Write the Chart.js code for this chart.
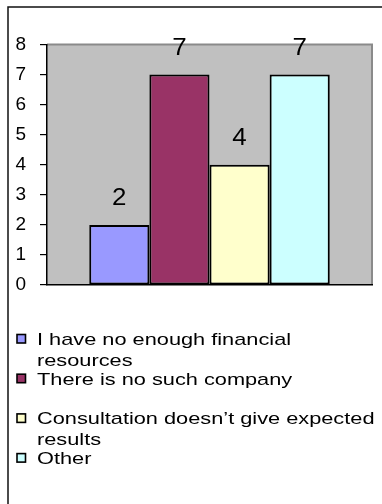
<!DOCTYPE html>
<html>
<head>
<meta charset="utf-8">
<script src="https://cdn.jsdelivr.net/npm/chart.js@4/dist/chart.umd.min.js"></script>
<style>
  html, body { margin: 0; padding: 0; background: #ffffff; }
  #wrap { position: relative; width: 382px; height: 504px; }
</style>
</head>
<body>
<div id="wrap"><canvas id="chart" width="382" height="504"></canvas></div>
<script>
// Reasons given for not using consulting services
const categories = [
  'I have no enough financial resources',
  'There is no such company',
  'Consultation doesn\u2019t give expected results',
  'Other'
];
const counts = [2, 7, 4, 7];
const barColors = ['#9999FF', '#993366', '#FFFFCC', '#CCFFFF'];
const yTicks = [0, 1, 2, 3, 4, 5, 6, 7, 8];

const FONT = '"Liberation Sans", Arial, sans-serif';

// Draws text widened horizontally, as the original chart's typeface appears
function wideText(ctx, text, x, y, sx, align) {
  ctx.save();
  const w = ctx.measureText(text).width * sx;
  let x0 = x;
  if (align === 'center') x0 = x - w / 2;
  else if (align === 'right') x0 = x - w;
  ctx.translate(x0, y);
  ctx.scale(sx, 1);
  ctx.textAlign = 'left';
  ctx.fillText(text, 0, 0);
  ctx.restore();
}

function wrapWords(ctx, text, maxW, sx) {
  const words = text.split(' ');
  const lines = [];
  let cur = '';
  for (const w of words) {
    const t = cur ? cur + ' ' + w : w;
    if (ctx.measureText(t).width * sx > maxW && cur) { lines.push(cur); cur = w; }
    else cur = t;
  }
  if (cur) lines.push(cur);
  return lines;
}

// Grey plot background, outer frame and grey plot border
const backdrop = {
  id: 'backdrop',
  beforeDraw(chart) {
    const { ctx, chartArea: a } = chart;
    ctx.save();
    ctx.fillStyle = '#C0C0C0';
    ctx.fillRect(a.left, a.top, a.right - a.left, a.bottom - a.top);
    ctx.strokeStyle = '#8A8A8A';
    ctx.lineWidth = 2;
    ctx.beginPath();
    ctx.moveTo(a.left, a.top);
    ctx.lineTo(a.right, a.top);
    ctx.lineTo(a.right, a.bottom);
    ctx.stroke();
    // outer frame
    ctx.strokeStyle = '#111111';
    ctx.lineWidth = 1.5;
    ctx.beginPath();
    ctx.moveTo(8, 504);
    ctx.lineTo(8, 7);
    ctx.lineTo(382, 7);
    ctx.stroke();
    ctx.restore();
  }
};

// Value labels above each bar
const valueLabels = {
  id: 'valueLabels',
  afterDatasetsDraw(chart) {
    const { ctx } = chart;
    ctx.save();
    ctx.fillStyle = '#000000';
    ctx.font = '24px ' + FONT;
    ctx.textBaseline = 'alphabetic';
    chart.data.datasets.forEach((ds, i) => {
      const meta = chart.getDatasetMeta(i);
      meta.data.forEach((bar, j) => {
        wideText(ctx, String(ds.data[j]), bar.x, bar.y - 20, 1.08, 'center');
      });
    });
    ctx.restore();
  }
};

// Legend listed below the plot
const legendBelow = {
  id: 'legendBelow',
  afterDraw(chart) {
    const { ctx } = chart;
    ctx.save();
    ctx.font = '17px ' + FONT;
    ctx.fillStyle = '#000000';
    ctx.textBaseline = 'alphabetic';
    const sx = 1.28;
    chart.data.datasets.forEach((ds, i) => {
      const base = 345 + i * 39.7;
      ctx.fillStyle = ds.backgroundColor;
      ctx.fillRect(17, base - 10.5, 8.5, 8.5);
      ctx.strokeStyle = '#000000';
      ctx.lineWidth = 1.6;
      ctx.strokeRect(17, base - 10.5, 8.5, 8.5);
      ctx.fillStyle = '#000000';
      const lines = wrapWords(ctx, ds.label, 346, sx);
      lines.forEach((ln, k) => wideText(ctx, ln, 37, base + k * 21, sx, 'left'));
    });
    ctx.restore();
  }
};

new Chart(document.getElementById('chart'), {
  type: 'bar',
  data: {
    labels: [''],
    datasets: categories.map((c, i) => ({
      label: c,
      data: [counts[i]],
      backgroundColor: barColors[i],
      borderColor: '#000000',
      borderWidth: 2,
      borderSkipped: false,
      barPercentage: 1,
      categoryPercentage: 0.74
    }))
  },
  options: {
    responsive: false,
    animation: false,
    events: [],
    layout: { padding: { left: 0, right: 10, top: 44.5, bottom: 219 } },
    plugins: { legend: { display: false }, tooltip: { enabled: false } },
    scales: {
      x: {
        grid: { display: false },
        ticks: { display: false },
        border: { display: true, color: '#000000', width: 1.5 },
        afterFit(scale) { scale.height = 0; }
      },
      y: {
        min: 0,
        max: 8,
        afterBuildTicks(scale) { scale.ticks = yTicks.map(v => ({ value: v })); },
        ticks: {
          color: '#000000',
          font: { family: FONT, size: 19 },
          padding: 14
        },
        grid: {
          drawOnChartArea: false,
          drawTicks: true,
          tickLength: 7,
          color: '#000000',
          lineWidth: 1.2
        },
        border: { display: true, color: '#000000', width: 1.5 },
        afterFit(scale) { scale.width = 47; }
      }
    }
  },
  plugins: [backdrop, valueLabels, legendBelow]
});
</script>
</body>
</html>
